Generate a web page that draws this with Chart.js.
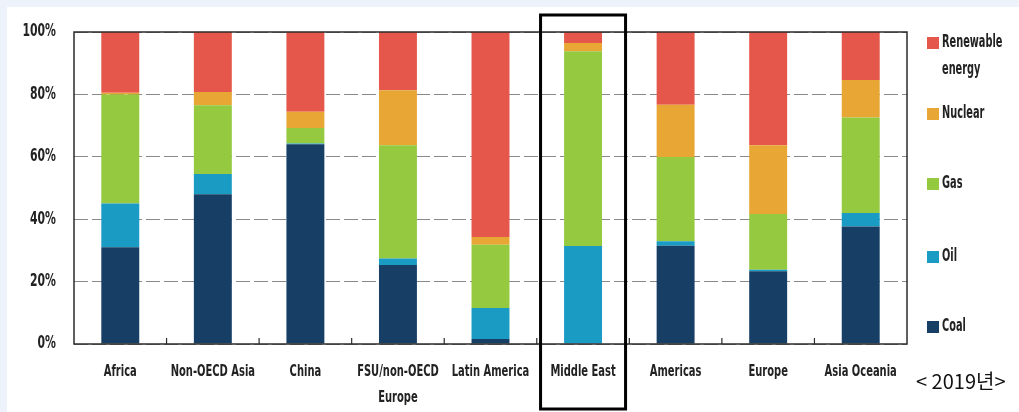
<!DOCTYPE html>
<html>
<head>
<meta charset="utf-8">
<script src="https://cdn.jsdelivr.net/npm/chart.js@4"></script>
<style>
    body { margin: 0; background: #edf2fb; width: 1019px; height: 412px; overflow: hidden; }
    #panel { position: absolute; left: 7px; top: 7px; width: 1012px; height: 405px; background: #fff; }
</style>
</head>
<body>
<div id="panel"><canvas id="chart" width="1012" height="405"></canvas></div>
<script>
const regions = ['Africa', 'Non-OECD Asia', 'China', ['FSU/non-OECD', 'Europe'], 'Latin America', 'Middle East', 'Americas', 'Europe', 'Asia Oceania'];
const yTicks = [0, 20, 40, 60, 80, 100];

// shares in %
const coal      = [31, 48, 64, 25.3, 1.6, 0, 31.5, 23.3, 37.7];
const oil       = [14, 6.5, 0.3, 2.1, 9.9, 31.4, 1.4, 0.5, 4.3];
const gas       = [35, 22, 4.9, 36.3, 20.3, 62.4, 27, 17.9, 30.6];
const nuclear   = [0.5, 4.3, 5.2, 17.6, 2.5, 2.7, 16.8, 22, 12];
const renewable = [19.5, 19.2, 25.6, 18.7, 65.7, 3.5, 23.3, 36.3, 15.4];

const COLORS = { coal: '#173f66', oil: '#1a9bc4', gas: '#95c93f', nuclear: '#e8a634', renewable: '#e4574a' };
const FAMILY = '"DejaVu Sans Condensed", "DejaVu Sans", sans-serif';
const HIGHLIGHT = 5; // Middle East

const legendItems = [
    { label: ['Renewable', 'energy'], color: COLORS.renewable, y: 36 },
    { label: ['Nuclear'], color: COLORS.nuclear, y: 107 },
    { label: ['Gas'], color: COLORS.gas, y: 177 },
    { label: ['Oil'], color: COLORS.oil, y: 250 },
    { label: ['Coal'], color: COLORS.coal, y: 320 }
];

// the source uses a very narrow face, so squeeze text horizontally
function narrowText(ctx, text, x, y, align, sx) {
    ctx.save();
    ctx.translate(x, y);
    ctx.scale(sx, 1);
    ctx.textAlign = align;
    ctx.fillText(text, 0, 0);
    ctx.restore();
}

const decorations = {
    id: 'decorations',
    afterDraw(chart) {
        const { ctx, chartArea: a, scales: { x, y } } = chart;
        ctx.save();
        // frame
        ctx.strokeStyle = '#2b2b2b';
        ctx.lineWidth = 1.5;
        ctx.strokeRect(a.left, a.top, a.right - a.left, a.bottom - a.top);
        // little ticks between categories
        ctx.lineWidth = 1.2;
        for (let i = 1; i < regions.length; i++) {
            const px = (x.getPixelForTick(i - 1) + x.getPixelForTick(i)) / 2;
            ctx.beginPath(); ctx.moveTo(px, a.bottom); ctx.lineTo(px, a.bottom - 6); ctx.stroke();
        }
        // axis labels
        ctx.fillStyle = '#222';
        ctx.textBaseline = 'middle';
        ctx.font = 'bold 17px ' + FAMILY;
        yTicks.forEach(v => narrowText(ctx, v + '%', a.left - 18, y.getPixelForValue(v), 'right', 0.71));
        ctx.font = 'bold 16.5px ' + FAMILY;
        regions.forEach((r, i) => {
            const lines = Array.isArray(r) ? r : [r];
            lines.forEach((t, j) => narrowText(ctx, t, x.getPixelForTick(i), a.bottom + 28 + j * 26, 'center', 0.67));
        });
        // highlight box
        const cx = x.getPixelForTick(HIGHLIGHT);
        ctx.strokeStyle = '#000';
        ctx.lineWidth = 3;
        ctx.strokeRect(cx - 42.5, 8, 85, 394);
        // legend
        ctx.font = 'bold 17px ' + FAMILY;
        legendItems.forEach(it => {
            ctx.fillStyle = it.color;
            ctx.fillRect(920, it.y - 6, 12, 12);
            ctx.fillStyle = '#222';
            it.label.forEach((t, j) => narrowText(ctx, t, 935, it.y + j * 27, 'left', 0.64));
        });
        ctx.font = '20px "Noto Sans CJK KR", sans-serif';
        ctx.fillStyle = '#111';
        ctx.textAlign = 'left';
        ctx.fillText('< 2019년>', 909, 374);
        ctx.restore();
    }
};

const mk = (label, data, color) => ({ label, data, backgroundColor: color, barPercentage: 0.41, categoryPercentage: 1 });

new Chart(document.getElementById('chart'), {
    type: 'bar',
    data: {
        labels: regions,
        datasets: [
            mk('Coal', coal, COLORS.coal),
            mk('Oil', oil, COLORS.oil),
            mk('Gas', gas, COLORS.gas),
            mk('Nuclear', nuclear, COLORS.nuclear),
            mk('Renewable energy', renewable, COLORS.renewable)
        ]
    },
    options: {
        responsive: false,
        animation: false,
        layout: { padding: { top: 25, right: 112, left: 0, bottom: 0 } },
        plugins: { legend: { display: false }, tooltip: { enabled: false } },
        scales: {
            x: {
                stacked: true,
                grid: { display: false },
                border: { display: false },
                ticks: { display: false },
                afterFit(s) { s.height = 68; }
            },
            y: {
                stacked: true,
                min: 0, max: 100,
                afterBuildTicks(s) { s.ticks = yTicks.map(v => ({ value: v })); },
                grid: { color: '#8a8a8a', lineWidth: 1, drawTicks: false },
                border: { display: false, dash: [14, 4] },
                ticks: { display: false },
                afterFit(s) { s.width = 67; }
            }
        }
    },
    plugins: [decorations]
});
</script>
</body>
</html>
